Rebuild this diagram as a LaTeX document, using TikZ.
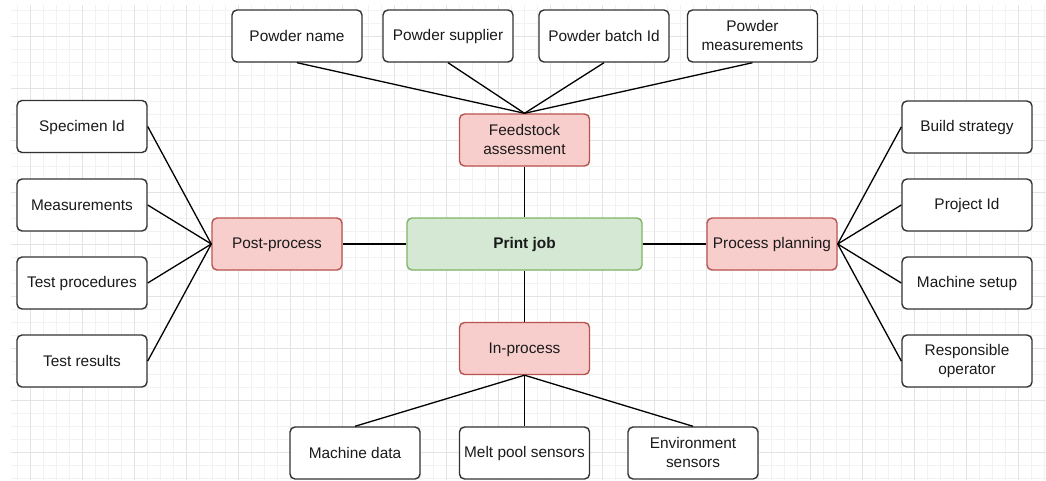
\documentclass[tikz,border=0pt]{standalone}
\usepackage{fontspec}
\setmainfont{Liberation Sans}
\definecolor{redfill}{HTML}{F8CECC}
\definecolor{redline}{HTML}{B85450}
\definecolor{greenfill}{HTML}{D5E8D4}
\definecolor{greenline}{HTML}{82B366}
\definecolor{boxline}{HTML}{333333}
\definecolor{txt}{HTML}{1A1A1A}
\definecolor{gridminor}{HTML}{F2F2F2}
\definecolor{gridmajor}{HTML}{E3E3E3}
\tikzset{
  box/.style={draw=boxline, line width=1.4pt, fill=white, rounded corners=5pt,
    minimum width=130pt, minimum height=52pt, inner sep=0pt, align=center,
    text=txt, font=\fontsize{15.4}{19}\selectfont,
    execute at begin node={\rule{0pt}{13pt}},
    execute at end node={\rule[-2pt]{0pt}{2pt}}},
  redbox/.style={box, draw=redline, fill=redfill},
  greenbox/.style={box, draw=greenline, fill=greenfill, minimum width=235pt, font=\fontsize{15.4}{19}\selectfont\bfseries},
  link/.style={draw=black, line width=1.3pt}
}
\begin{document}
\begin{tikzpicture}[x=1pt,y=-1pt]
\useasboundingbox (0,0) rectangle (1046,480);
\fill[white] (0,0) rectangle (1046,480);
% grid
\begin{scope}
\clip (11,5) rectangle (1046,480);
\foreach \i in {0,...,80} {
  \draw[gridminor, line width=1pt] ({4+13*\i},5) -- ({4+13*\i},480);
}
\foreach \i in {0,...,37} {
  \draw[gridminor, line width=1pt] (11,{10+13*\i}) -- (1046,{10+13*\i});
}
\foreach \i in {-1,...,20} {
  \draw[gridmajor, line width=1pt] ({30+52*\i},5) -- ({30+52*\i},480);
}
\foreach \i in {-1,...,9} {
  \draw[gridmajor, line width=1pt] (11,{36+52*\i}) -- (1046,{36+52*\i});
}
\end{scope}

% nodes
\node[box] (pn) at (297,36) {Powder name};
\node[box] (ps) at (448,36) {Powder supplier};
\node[box] (pb) at (604,36) {Powder batch Id};
\node[box] (pm) at (752.5,36) {Powder\\measurements};

\node[redbox] (fa) at (524.5,140) {Feedstock\\assessment};
\node[greenbox] (pj) at (524.5,244) {Print job};
\node[redbox] (post) at (277,244) {Post-process};
\node[redbox] (plan) at (772,244) {Process planning};
\node[redbox] (inp) at (524.5,348.5) {In-process};

\node[box] (md) at (355,453) {Machine data};
\node[box] (mp) at (524.5,453) {Melt pool sensors};
\node[box] (es) at (693,453) {Environment\\sensors};

\node[box] (si) at (82,126.5) {Specimen Id};
\node[box] (me) at (82,205) {Measurements};
\node[box] (tp) at (82,283) {Test procedures};
\node[box] (tr) at (82,361) {Test results};

\node[box] (bs) at (967,127) {Build strategy};
\node[box] (pi) at (967,205) {Project Id};
\node[box] (ms) at (967,283) {Machine setup};
\node[box] (ro) at (967,361) {Responsible\\operator};

% connectors
\draw[link] (pn.south) -- (fa.north);
\draw[link] (ps.south) -- (fa.north);
\draw[link] (pb.south) -- (fa.north);
\draw[link] (pm.south) -- (fa.north);

\draw[link] (fa.south) -- (pj.north);
\draw[link] (pj.west) -- (post.east);
\draw[link] (pj.east) -- (plan.west);
\draw[link] (pj.south) -- (inp.north);

\draw[link] (si.east) -- (post.west);
\draw[link] (me.east) -- (post.west);
\draw[link] (tp.east) -- (post.west);
\draw[link] (tr.east) -- (post.west);

\draw[link] (bs.west) -- (plan.east);
\draw[link] (pi.west) -- (plan.east);
\draw[link] (ms.west) -- (plan.east);
\draw[link] (ro.west) -- (plan.east);

\draw[link] (inp.south) -- (md.north);
\draw[link] (inp.south) -- (mp.north);
\draw[link] (inp.south) -- (es.north);
\end{tikzpicture}
\end{document}
